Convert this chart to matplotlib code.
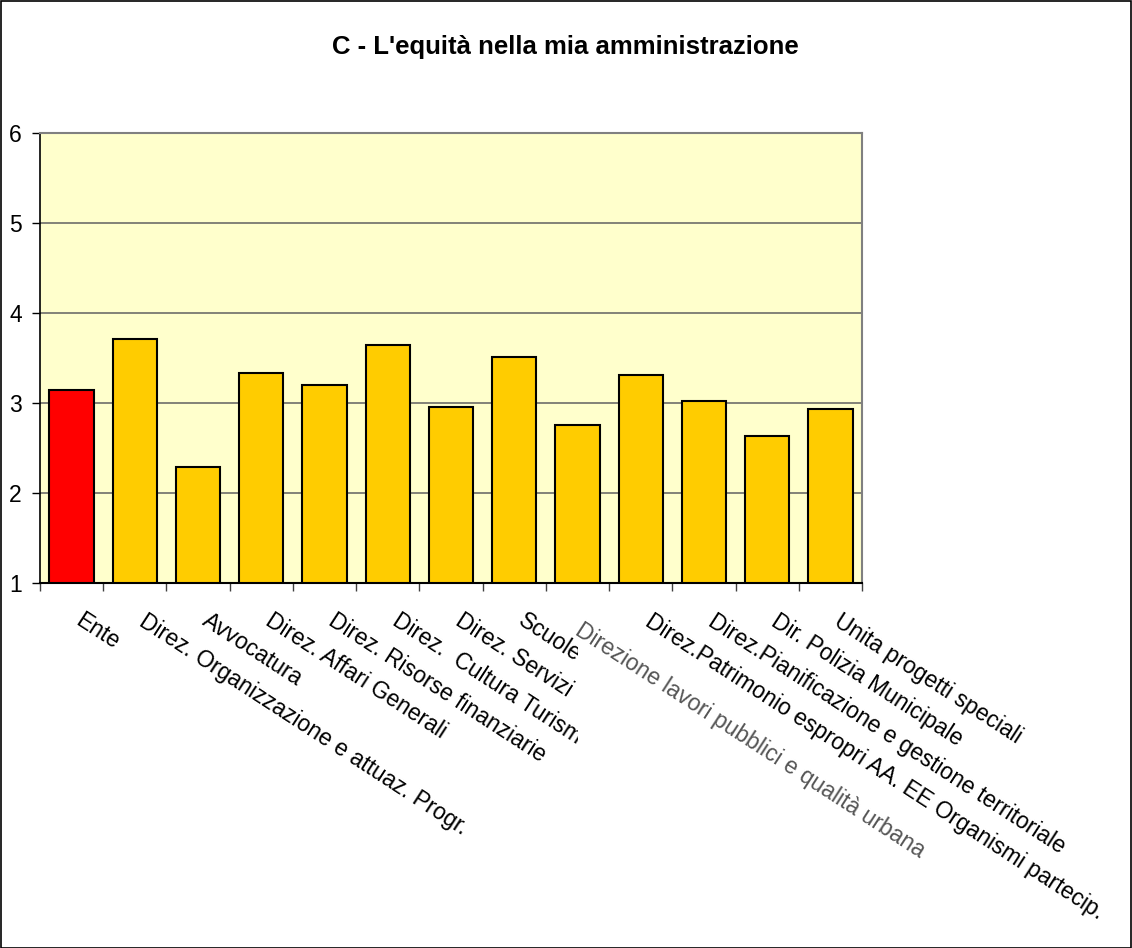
import numpy as np
import matplotlib
matplotlib.use("Agg")
import matplotlib.pyplot as plt
from matplotlib.patches import Rectangle
from matplotlib.transforms import Bbox

plt.rcParams['font.family'] = ['Liberation Sans', 'DejaVu Sans']

# dati
categorie = ["Ente",
             "Direz. Organizzazione e attuaz. Progr.",
             "Avvocatura",
             "Direz. Affari Generali",
             "Direz. Risorse finanziarie",
             "Direz.  Cultura Turismo",
             "Direz. Servizi",
             "Scuole",
             "Direzione lavori pubblici e qualità urbana",
             "Direz.Patrimonio espropri AA. EE Organismi partecip.",
             "Direz.Pianificazione e gestione territoriale",
             "Dir. Polizia Municipale",
             "Unita progetti speciali"]
valori = [3.14, 3.71, 2.29, 3.33, 3.20, 3.64, 2.96, 3.51, 2.76, 3.31, 3.02, 2.63, 2.93]
etichette_y = [1, 2, 3, 4, 5, 6]
tagliate = [5, 6, 7]      # etichette tagliate nell'originale
grigia = 8                # etichetta sfocata/grigia

fig = plt.figure(figsize=(11.32, 9.48), dpi=100)
fig.patches.append(Rectangle((0.0005, 0.0), 0.999, 0.999, transform=fig.transFigure,
                             fill=False, edgecolor='black', linewidth=1.2))

ax = fig.add_axes([40/1132, 1-583/948, 822/1132, 450/948])
ax.set_facecolor('#FFFFCC')

x = np.arange(len(categorie))
colori = ['#FF0000'] + ['#FFCC00'] * (len(categorie) - 1)
ax.bar(x, [v - 1 for v in valori], bottom=1, width=0.7, color=colori,
       edgecolor='black', linewidth=1.5, zorder=3)

ax.set_xlim(-0.5, len(categorie) - 0.5)
ax.set_ylim(1, 6)
ax.set_yticks(etichette_y)
ax.set_yticklabels([str(v) for v in etichette_y])
ax.yaxis.grid(True, color='#606060', linewidth=1.1, zorder=1)
ax.tick_params(axis='y', direction='out', length=6, width=1, pad=7, labelsize=16.5)

ax.set_xticks(x)
ax.set_xticklabels([])
ax.tick_params(axis='x', which='major', length=0)
ax.set_xticks(np.arange(-0.5, len(categorie)), minor=True)
ax.tick_params(axis='x', which='minor', direction='out', length=6, width=1, color='#404040')

for s in ['top', 'right']:
    ax.spines[s].set_color('#808080')
    ax.spines[s].set_linewidth(1.5)
ax.spines['left'].set_linewidth(1.2)
ax.spines['bottom'].set_linewidth(1.5)

clip = Bbox([[0, 0], [578, 948]])
for i, lab in enumerate(categorie):
    colore = '#555555' if i == grigia else 'black'
    dx = 0.0 if i == grigia else 0.1
    dy = -0.5 if i == grigia else -0.4
    t = ax.text(i + dx, 1 + dy, lab, rotation=-33, rotation_mode='anchor',
                ha='left', va='center', fontsize=16.5, color=colore, clip_on=False)
    if i in tagliate:
        t.set_clip_on(True)
        t.set_clip_box(clip)

fig.text(565/1132, 1-47/948, "C - L'equità nella mia amministrazione",
         ha='center', va='center', fontsize=18.5, fontweight='bold')

fig.savefig('out.png', dpi=100)
